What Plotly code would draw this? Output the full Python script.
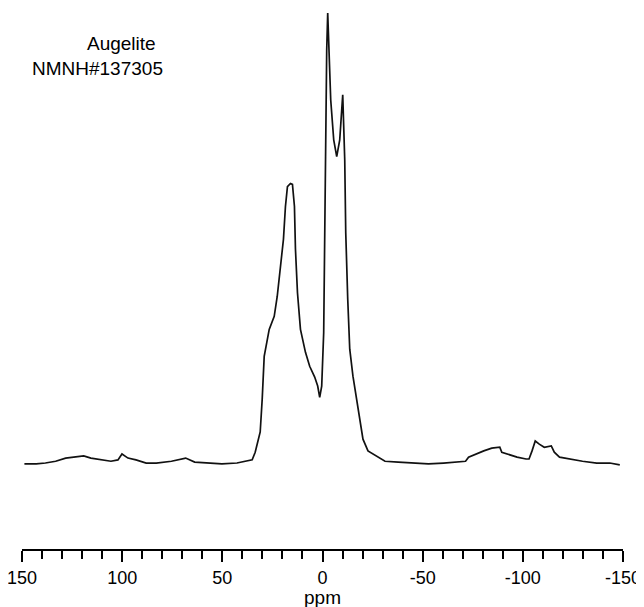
import plotly.graph_objects as go

# chemical shift (ppm) and intensity (a.u., tallest peak = 100)
ppm = [148.8, 142.9, 138.3, 133.2, 128.2, 123.2, 119.2, 115.6, 110.6, 105.6,
       102.1, 100.1, 97.1, 93.1, 88.0, 83.0, 75.4, 68.3, 63.8, 57.8,
       50.2, 42.7, 37.7, 35.1, 33.6, 31.1, 30.1, 29.1, 26.6, 24.1,
       22.6, 21.1, 19.5, 18.5, 17.5, 16.0, 15.0, 14.0, 13.5, 12.5,
       11.0, 8.5, 6.4, 3.9, 2.4, 1.4, 0.4, -0.6, -1.1, -1.6,
       -2.1, -2.6, -3.1, -4.1, -5.6, -7.1, -8.6, -9.6, -10.1, -11.1,
       -11.6, -12.6, -13.6, -15.2, -16.7, -18.7, -20.2, -22.7, -26.7, -31.2,
       -37.8, -45.3, -52.9, -60.4, -67.9, -71.4, -72.9, -76.5, -80.5, -84.5,
       -87.0, -88.5, -89.5, -93.1, -97.1, -101.6, -103.1, -104.6, -106.2, -108.2,
       -110.7, -114.2, -115.7, -118.3, -123.3, -129.8, -136.9, -143.4, -148.4]
intensity = [-0.2, -0.2, 0.0, 0.4, 1.1, 1.3, 1.6, 1.1, 0.7, 0.4,
             0.7, 2.0, 1.1, 0.7, 0.0, 0.0, 0.4, 1.1, 0.2, 0.0,
             -0.2, 0.0, 0.4, 0.7, 2.4, 6.9, 14.2, 23.7, 29.7, 32.6,
             37.0, 43.7, 49.7, 57.0, 61.4, 62.1, 61.9, 57.0, 47.5, 37.9,
             29.7, 24.6, 21.5, 19.1, 17.1, 14.6, 17.1, 29.0, 51.2, 73.4,
             91.8, 100.0, 91.8, 80.7, 71.8, 68.1, 71.8, 79.2, 81.8, 67.4,
             51.2, 36.4, 25.3, 19.3, 14.9, 9.8, 5.3, 2.7, 1.6, 0.4,
             0.2, 0.0, -0.2, 0.0, 0.2, 0.4, 1.3, 2.0, 2.7, 3.3,
             3.5, 3.5, 2.4, 1.8, 1.3, 0.9, 0.9, 2.7, 4.9, 4.2,
             3.5, 3.8, 2.4, 1.3, 0.9, 0.4, 0.0, 0.0, -0.4]

tick_vals = [150, 100, 50, 0, -50, -100, -150]
tick_text = ['150', '100', '50', '0', '-50', '-100', '-150']

fig = go.Figure(go.Scatter(x=ppm, y=intensity, mode='lines',
                           line=dict(color='#111111', width=1.7)))

fig.update_layout(
    width=644, height=607,
    margin=dict(l=14, r=29, t=0, b=66),
    paper_bgcolor='white', plot_bgcolor='white',
    showlegend=False,
    font=dict(family='Liberation Sans, Arial, sans-serif', color='black'),
    xaxis=dict(range=[150, -150], showgrid=False, zeroline=False,
               showline=True, linecolor='black', linewidth=2,
               ticks='outside', ticklen=11, tickwidth=2, tickcolor='black',
               tickvals=tick_vals, ticktext=tick_text,
               tickfont=dict(size=18), ticklabeloverflow='allow',
               minor=dict(dtick=10, ticks='outside', ticklen=8,
                          tickwidth=2, tickcolor='black')),
    yaxis=dict(range=[-19.1, 101.1], visible=False),
    annotations=[
        dict(text='Augelite', x=0.166, y=0.935,
             xref='paper', yref='paper', showarrow=False,
             xanchor='center', yanchor='middle', font=dict(size=19)),
        dict(text='NMNH#137305', x=0.125, y=0.889,
             xref='paper', yref='paper', showarrow=False,
             xanchor='center', yanchor='middle', font=dict(size=19)),
        dict(text='ppm', x=0.5, y=-0.089,
             xref='paper', yref='paper', showarrow=False,
             xanchor='center', yanchor='middle', font=dict(size=19)),
    ],
)

fig.write_html('out.html')
